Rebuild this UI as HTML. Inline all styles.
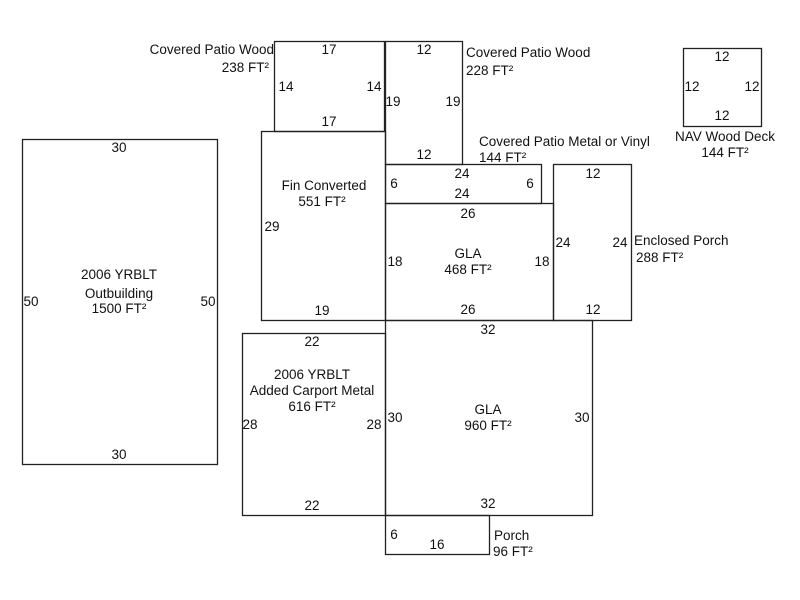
<!DOCTYPE html>
<html><head><style>body{margin:0;background:#fff}svg{display:block}text{font-family:"Liberation Sans",Arial,sans-serif;font-size:13.5px;fill:#111}</style></head>
<body>
<svg width="800" height="600" viewBox="0 0 800 600" xmlns="http://www.w3.org/2000/svg">
<g fill="none" stroke="#222" stroke-width="1.3">
<rect x="22.5" y="139.5" width="195" height="325"/>
<rect x="274.5" y="41.5" width="110" height="90"/>
<rect x="385.5" y="41.5" width="77" height="123"/>
<rect x="683.5" y="48.5" width="78" height="78"/>
<rect x="261.5" y="131.5" width="124" height="189"/>
<rect x="385.5" y="164.5" width="156" height="39"/>
<rect x="385.5" y="203.5" width="168" height="117"/>
<rect x="553.5" y="164.5" width="78" height="156"/>
<rect x="242.5" y="333.5" width="143" height="182"/>
<rect x="385.5" y="320.5" width="207" height="195"/>
<rect x="385.5" y="515.5" width="104" height="39"/>
</g>
<g text-anchor="middle">
<text x="119" y="152">30</text><text x="119" y="459">30</text>
<text x="31" y="306">50</text><text x="208" y="306">50</text>
<text x="119" y="279">2006 YRBLT</text><text x="119" y="298">Outbuilding</text><text x="119" y="313">1500 FT²</text>
<text x="329" y="54">17</text><text x="329" y="126">17</text>
<text x="286" y="91">14</text><text x="374" y="91">14</text>
<text x="424" y="54">12</text><text x="424" y="159">12</text>
<text x="393" y="106">19</text><text x="453" y="106">19</text>
<text x="722" y="61">12</text><text x="722" y="120">12</text>
<text x="692" y="91">12</text><text x="752" y="91">12</text>
<text x="725" y="141">NAV Wood Deck</text><text x="725" y="157">144 FT²</text>
<text x="324" y="190">Fin Converted</text><text x="322" y="206">551 FT²</text>
<text x="272" y="231">29</text><text x="322" y="315">19</text>
<text x="462" y="178">24</text><text x="462" y="198">24</text>
<text x="394" y="188">6</text><text x="530" y="188">6</text>
<text x="468" y="218">26</text><text x="468" y="314">26</text>
<text x="395" y="266">18</text><text x="542" y="266">18</text>
<text x="468" y="258">GLA</text><text x="468" y="274">468 FT²</text>
<text x="593" y="178">12</text><text x="593" y="314">12</text>
<text x="563" y="247">24</text><text x="620" y="247">24</text>
<text x="312" y="346">22</text><text x="312" y="510">22</text>
<text x="250" y="429">28</text><text x="374" y="429">28</text>
<text x="312" y="379">2006 YRBLT</text><text x="312" y="395">Added Carport Metal</text><text x="312" y="411">616 FT²</text>
<text x="488" y="334">32</text><text x="488" y="508">32</text>
<text x="395" y="422">30</text><text x="582" y="422">30</text>
<text x="488" y="414">GLA</text><text x="488" y="430">960 FT²</text>
<text x="394" y="539">6</text><text x="437" y="549">16</text>
</g>
<g text-anchor="end">
<text x="274" y="54">Covered Patio Wood</text><text x="269" y="72">238 FT²</text>
</g>
<g>
<text x="466" y="57">Covered Patio Wood</text><text x="466" y="75">228 FT²</text>
<text x="479" y="146">Covered Patio Metal or Vinyl</text><text x="479" y="162">144 FT²</text>
<text x="634" y="245">Enclosed Porch</text><text x="636" y="262">288 FT²</text>
<text x="494" y="540">Porch</text><text x="493" y="556">96 FT²</text>
</g>
</svg>
</body></html>
